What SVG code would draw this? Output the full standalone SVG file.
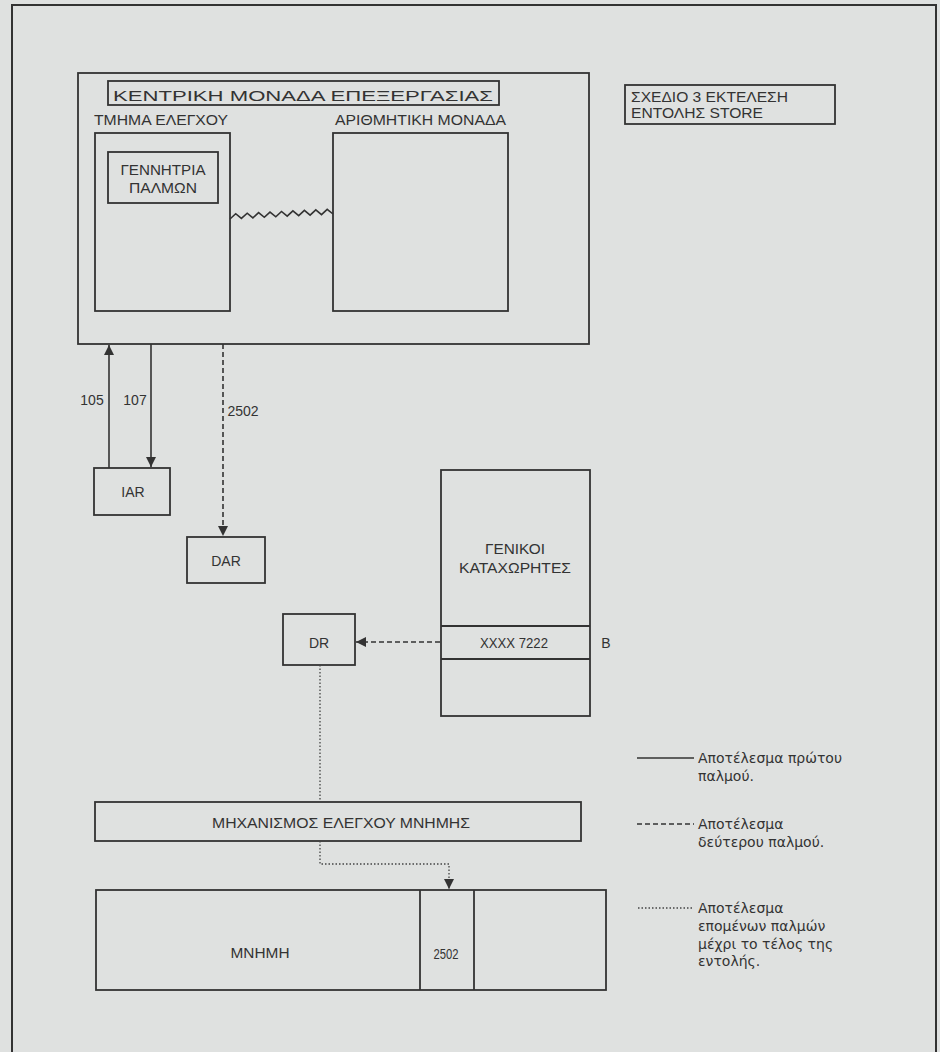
<svg xmlns="http://www.w3.org/2000/svg" width="940" height="1052" viewBox="0 0 940 1052">
<defs>
<style>
.bx{fill:none;stroke:#333;stroke-width:1.8}
.ln{fill:none;stroke:#333;stroke-width:1.6}
.da{fill:none;stroke:#333;stroke-width:1.6;stroke-dasharray:5 3}
.dt{fill:none;stroke:#444;stroke-width:1.3;stroke-dasharray:1.5 2}
.t{font-family:"Liberation Sans",Arial,sans-serif;fill:#333;font-size:14px}
.c{text-anchor:middle}
.g{font-family:"DejaVu Sans","Noto Sans",sans-serif;fill:#333;font-size:14px}
</style>
<marker id="ah" viewBox="0 0 10 10" refX="10" refY="5" markerWidth="10" markerHeight="10" markerUnits="userSpaceOnUse" orient="auto">
<path d="M0,0 L10,5 L0,10 Z" fill="#333"/>
</marker>
</defs>
<rect x="0" y="0" width="940" height="1052" fill="#dfe1e0"/>
<path d="M12,1060 V5 H936 V1060" fill="none" stroke="#333" stroke-width="2"/>

<g id="cpu">
<rect class="bx" x="78" y="73" width="511" height="271"/>
<rect class="bx" x="108" y="81" width="391" height="24"/>
<text class="t" x="113" y="101" font-size="22" textLength="380" lengthAdjust="spacingAndGlyphs">ΚΕΝΤΡΙΚΗ ΜΟΝΑΔΑ ΕΠΕΞΕΡΓΑΣΙΑΣ</text>
</g>
<g id="control">
<text class="t" x="94" y="125" textLength="134" lengthAdjust="spacingAndGlyphs">ΤΜΗΜΑ ΕΛΕΓΧΟΥ</text>
<rect class="bx" x="95" y="133" width="135" height="178"/>
</g>
<g id="pulse-generator">
<rect class="bx" x="108" y="152" width="110" height="51"/>
<text class="t c" x="163" y="175" textLength="85" lengthAdjust="spacingAndGlyphs">ΓΕΝΝΗΤΡΙΑ</text>
<text class="t c" x="163" y="193" textLength="68" lengthAdjust="spacingAndGlyphs">ΠΑΛΜΩΝ</text>
</g>
<g id="alu">
<text class="t" x="335" y="125" textLength="171" lengthAdjust="spacingAndGlyphs">ΑΡΙΘΜΗΤΙΚΗ ΜΟΝΑΔΑ</text>
<rect class="bx" x="333" y="133" width="175" height="178"/>
</g>
<g id="caption">
<rect class="bx" x="625" y="85" width="210" height="39"/>
<text class="t" x="631" y="102" textLength="157" lengthAdjust="spacingAndGlyphs">ΣΧΕΔΙΟ 3 ΕΚΤΕΛΕΣΗ</text>
<text class="t" x="631" y="118" textLength="132" lengthAdjust="spacingAndGlyphs">ΕΝΤΟΛΗΣ STORE</text>
</g>
<g id="iar">
<rect class="bx" x="94" y="468" width="76" height="47"/>
<text class="t c" x="133" y="497">IAR</text>
</g>
<g id="dar">
<rect class="bx" x="187" y="537" width="78" height="46"/>
<text class="t c" x="226" y="566">DAR</text>
</g>
<g id="registers">
<rect class="bx" x="441" y="470" width="149" height="246"/>
<line class="bx" x1="441" y1="626" x2="590" y2="626"/>
<line class="bx" x1="441" y1="659" x2="590" y2="659"/>
<text class="t c" x="515" y="554" textLength="60" lengthAdjust="spacingAndGlyphs">ΓΕΝΙΚΟΙ</text>
<text class="t c" x="515" y="573" textLength="112" lengthAdjust="spacingAndGlyphs">ΚΑΤΑΧΩΡΗΤΕΣ</text>
<text class="t c" x="514" y="648" font-size="13" textLength="68" lengthAdjust="spacingAndGlyphs">XXXX 7222</text>
<text class="t c" x="606" y="648" font-size="13">B</text>
</g>
<g id="dr">
<rect class="bx" x="283" y="614" width="72" height="51"/>
<text class="t c" x="319" y="648">DR</text>
</g>
<g id="memory-control">
<rect class="bx" x="95" y="802" width="486" height="39"/>
<text class="t c" x="341" y="828" font-size="15" textLength="258" lengthAdjust="spacingAndGlyphs">ΜΗΧΑΝΙΣΜΟΣ ΕΛΕΓΧΟΥ ΜΝΗΜΗΣ</text>
</g>
<g id="memory">
<rect class="bx" x="96" y="890" width="510" height="100"/>
<line class="bx" x1="420" y1="890" x2="420" y2="990"/>
<line class="bx" x1="474" y1="890" x2="474" y2="990"/>
<text class="t c" x="260" y="958" font-size="15" textLength="59" lengthAdjust="spacingAndGlyphs">ΜΝΗΜΗ</text>
<text class="t c" x="446" y="959" font-size="12" textLength="25" lengthAdjust="spacingAndGlyphs">2502</text>
</g>

<g id="connectors">
<path class="ln" d="M230,219 L235.7,213.7 L241.4,218.4 L247.2,213.2 L252.9,217.9 L258.6,212.6 L264.3,217.3 L270,212.1 L275.8,216.8 L281.5,211.5 L287.2,216.2 L292.9,210.9 L298.7,215.7 L304.4,210.4 L310.1,215.1 L315.8,209.8 L321.5,214.6 L327.2,209.3 L333,214"/>
<line class="ln" x1="109" y1="468" x2="109" y2="345" marker-end="url(#ah)"/>
<line class="ln" x1="151" y1="344" x2="151" y2="467" marker-end="url(#ah)"/>
<line class="da" x1="223" y1="344" x2="223" y2="536" marker-end="url(#ah)"/>
<line class="da" x1="440" y1="642" x2="356" y2="642" marker-end="url(#ah)"/>
<line class="dt" x1="320" y1="665" x2="320" y2="802"/>
<path class="dt" d="M320,841 V864 H449 V889" marker-end="url(#ah)"/>
<text class="t c" x="92" y="405" font-size="12">105</text>
<text class="t c" x="135" y="405" font-size="12">107</text>
<text class="t c" x="243" y="416" font-size="12">2502</text>
</g>

<g id="legend">
<line class="ln" x1="637" y1="758" x2="694" y2="758"/>
<text class="g" x="698" y="763">Αποτέλεσμα πρώτου</text>
<text class="g" x="698" y="781">παλμού.</text>
<line class="da" x1="637" y1="824" x2="694" y2="824"/>
<text class="g" x="698" y="829">Αποτέλεσμα</text>
<text class="g" x="698" y="847">δεύτερου παλμού.</text>
<line class="dt" x1="638" y1="908" x2="694" y2="908"/>
<text class="g" x="698" y="913">Αποτέλεσμα</text>
<text class="g" x="698" y="931">επομένων παλμών</text>
<text class="g" x="698" y="949">μέχρι το τέλος της</text>
<text class="g" x="698" y="966">εντολής.</text>
</g>
</svg>
